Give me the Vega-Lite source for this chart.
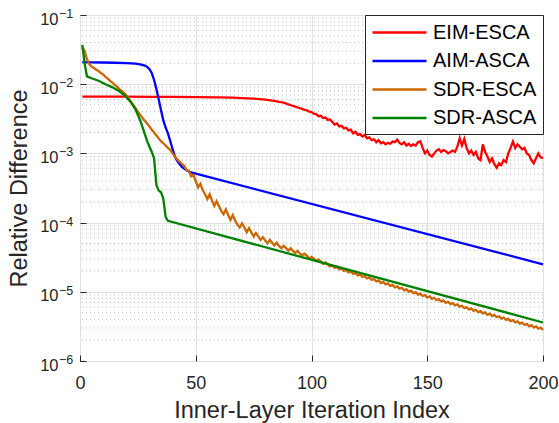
{
  "$schema": "https://vega.github.io/schema/vega-lite/v6.json",
  "width": 463,
  "height": 346,
  "autosize": {"type": "none"},
  "padding": {"left": 80, "top": 15, "right": 16, "bottom": 62},
  "background": "white",
  "config": {
    "view": {"stroke": "#262626", "strokeWidth": 1},
    "font": "Liberation Sans",
    "axis": {
      "labelFont": "Liberation Sans", "labelFontSize": 18, "labelColor": "#262626",
      "titleFont": "Liberation Sans", "titleFontSize": 23.5, "titleFontWeight": "normal", "titleColor": "#262626",
      "domain": false, "tickColor": "#262626", "gridColor": "#e0e0e0", "gridWidth": 1
    },
    "legend": {
      "orient": "top-right", "offset": 0, "fillColor": "white", "strokeColor": "#262626", "padding": 6,
      "symbolType": "M-2.7,0H2.7", "symbolSize": 400, "symbolStrokeWidth": 2.5, "symbolOffset": 17,
      "labelFont": "Liberation Sans", "labelFontSize": 20, "labelColor": "black", "rowPadding": 6.5, "labelOffset": 22, "labelLimit": 0
    }
  },
  "datasets": {
    "exps": [
      {"y": 1e-1, "e": "−1"}, {"y": 1e-2, "e": "−2"}, {"y": 1e-3, "e": "−3"},
      {"y": 1e-4, "e": "−4"}, {"y": 1e-5, "e": "−5"}, {"y": 1e-6, "e": "−6"}
    ],
    "minor": [
      {"y": 2e-6}, {"y": 3e-6}, {"y": 4e-6}, {"y": 5e-6}, {"y": 6e-6}, {"y": 7e-6}, {"y": 8e-6}, {"y": 9e-6},
      {"y": 2e-5}, {"y": 3e-5}, {"y": 4e-5}, {"y": 5e-5}, {"y": 6e-5}, {"y": 7e-5}, {"y": 8e-5}, {"y": 9e-5},
      {"y": 2e-4}, {"y": 3e-4}, {"y": 4e-4}, {"y": 5e-4}, {"y": 6e-4}, {"y": 7e-4}, {"y": 8e-4}, {"y": 9e-4},
      {"y": 2e-3}, {"y": 3e-3}, {"y": 4e-3}, {"y": 5e-3}, {"y": 6e-3}, {"y": 7e-3}, {"y": 8e-3}, {"y": 9e-3},
      {"y": 2e-2}, {"y": 3e-2}, {"y": 4e-2}, {"y": 5e-2}, {"y": 6e-2}, {"y": 7e-2}, {"y": 8e-2}, {"y": 9e-2}
    ],
    "red": [
      {"x": 1, "y": 6.6e-3}, {"x": 10, "y": 6.6e-3}, {"x": 20, "y": 6.6e-3}, {"x": 30, "y": 6.58e-3}, {"x": 40, "y": 6.55e-3},
      {"x": 50, "y": 6.5e-3}, {"x": 60, "y": 6.45e-3}, {"x": 66, "y": 6.38e-3}, {"x": 70, "y": 6.3e-3}, {"x": 75, "y": 6.2e-3},
      {"x": 80, "y": 6.0e-3}, {"x": 84, "y": 5.75e-3}, {"x": 86, "y": 5.55e-3}, {"x": 88, "y": 5.4e-3}, {"x": 90, "y": 5.1e-3},
      {"x": 91, "y": 5.0e-3}, {"x": 92, "y": 4.85e-3}, {"x": 93, "y": 4.75e-3}, {"x": 94, "y": 4.6e-3}, {"x": 95, "y": 4.5e-3},
      {"x": 96, "y": 4.4e-3}, {"x": 97, "y": 4.25e-3}, {"x": 98, "y": 4.2e-3}, {"x": 99, "y": 4.0e-3}, {"x": 100, "y": 3.95e-3},
      {"x": 101, "y": 3.75e-3}, {"x": 102, "y": 3.7e-3}, {"x": 103, "y": 3.45e-3}, {"x": 104, "y": 3.5e-3}, {"x": 105, "y": 3.25e-3},
      {"x": 106, "y": 3.3e-3}, {"x": 107, "y": 3.05e-3}, {"x": 108, "y": 3.1e-3}, {"x": 109, "y": 2.85e-3}, {"x": 110, "y": 2.6e-3},
      {"x": 111, "y": 2.7e-3}, {"x": 112, "y": 2.45e-3}, {"x": 113, "y": 2.5e-3}, {"x": 114, "y": 2.3e-3}, {"x": 115, "y": 2.35e-3},
      {"x": 116, "y": 2.15e-3}, {"x": 117, "y": 2.2e-3}, {"x": 118, "y": 1.95e-3}, {"x": 119, "y": 2.05e-3}, {"x": 120, "y": 1.85e-3},
      {"x": 121, "y": 1.9e-3}, {"x": 122, "y": 1.75e-3}, {"x": 123, "y": 1.85e-3}, {"x": 124, "y": 1.65e-3}, {"x": 125, "y": 1.7e-3},
      {"x": 126, "y": 1.55e-3}, {"x": 127, "y": 1.6e-3}, {"x": 128, "y": 1.45e-3}, {"x": 129, "y": 1.55e-3}, {"x": 130, "y": 1.4e-3},
      {"x": 131, "y": 1.45e-3}, {"x": 132, "y": 1.35e-3}, {"x": 133, "y": 1.42e-3}, {"x": 134, "y": 1.38e-3}, {"x": 135, "y": 1.48e-3},
      {"x": 136, "y": 1.45e-3}, {"x": 137, "y": 1.58e-3}, {"x": 138, "y": 1.42e-3}, {"x": 139, "y": 1.35e-3}, {"x": 140, "y": 1.45e-3},
      {"x": 141, "y": 1.3e-3}, {"x": 142, "y": 1.38e-3}, {"x": 143, "y": 1.28e-3}, {"x": 144, "y": 1.35e-3}, {"x": 145, "y": 1.3e-3},
      {"x": 146, "y": 1.45e-3}, {"x": 147, "y": 1.5e-3}, {"x": 148, "y": 1.2e-3}, {"x": 149, "y": 1.0e-3}, {"x": 150, "y": 1.1e-3},
      {"x": 151, "y": 0.95e-3}, {"x": 152, "y": 0.9e-3}, {"x": 153, "y": 1.0e-3}, {"x": 154, "y": 1.1e-3}, {"x": 155, "y": 1.15e-3},
      {"x": 156, "y": 1.05e-3}, {"x": 157, "y": 1.12e-3}, {"x": 158, "y": 1.08e-3}, {"x": 159, "y": 1.0e-3}, {"x": 160, "y": 1.05e-3},
      {"x": 161, "y": 1.1e-3}, {"x": 162, "y": 1.05e-3}, {"x": 163, "y": 1.25e-3}, {"x": 164, "y": 1.65e-3}, {"x": 165, "y": 1.3e-3},
      {"x": 166, "y": 1.62e-3}, {"x": 167, "y": 1.2e-3}, {"x": 168, "y": 1.0e-3}, {"x": 169, "y": 1.1e-3}, {"x": 170, "y": 0.95e-3},
      {"x": 171, "y": 1.05e-3}, {"x": 172, "y": 0.85e-3}, {"x": 173, "y": 0.8e-3}, {"x": 174, "y": 1.35e-3}, {"x": 175, "y": 1.05e-3},
      {"x": 176, "y": 0.9e-3}, {"x": 177, "y": 0.75e-3}, {"x": 178, "y": 0.85e-3}, {"x": 179, "y": 0.7e-3}, {"x": 180, "y": 0.62e-3},
      {"x": 181, "y": 0.72e-3}, {"x": 182, "y": 0.68e-3}, {"x": 183, "y": 0.8e-3}, {"x": 184, "y": 0.75e-3}, {"x": 185, "y": 1.0e-3},
      {"x": 186, "y": 1.2e-3}, {"x": 187, "y": 1.48e-3}, {"x": 188, "y": 1.2e-3}, {"x": 189, "y": 1.35e-3}, {"x": 190, "y": 1.25e-3},
      {"x": 191, "y": 1.15e-3}, {"x": 192, "y": 1.2e-3}, {"x": 193, "y": 1.0e-3}, {"x": 194, "y": 0.95e-3}, {"x": 195, "y": 0.8e-3},
      {"x": 196, "y": 0.72e-3}, {"x": 197, "y": 0.85e-3}, {"x": 198, "y": 1.0e-3}, {"x": 199, "y": 0.88e-3}, {"x": 200, "y": 0.85e-3}
    ],
    "blue": [
      {"x": 1, "y": 2.08e-2}, {"x": 5, "y": 2.07e-2}, {"x": 10, "y": 2.06e-2}, {"x": 15, "y": 2.04e-2}, {"x": 20, "y": 2.02e-2},
      {"x": 24, "y": 1.98e-2}, {"x": 26, "y": 1.94e-2}, {"x": 28, "y": 1.86e-2}, {"x": 29, "y": 1.78e-2}, {"x": 30, "y": 1.65e-2},
      {"x": 31, "y": 1.45e-2}, {"x": 32, "y": 1.15e-2}, {"x": 33, "y": 8.5e-3}, {"x": 34, "y": 6.0e-3}, {"x": 35, "y": 4.2e-3},
      {"x": 36, "y": 3.0e-3}, {"x": 37, "y": 2.35e-3}, {"x": 38, "y": 1.95e-3}, {"x": 39, "y": 1.5e-3}, {"x": 40, "y": 1.15e-3},
      {"x": 41, "y": 9.0e-4}, {"x": 42, "y": 7.8e-4}, {"x": 43, "y": 7.0e-4}, {"x": 44, "y": 6.4e-4}, {"x": 46, "y": 5.7e-4},
      {"x": 48, "y": 5.3e-4}, {"x": 200, "y": 2.5e-5}
    ],
    "orange": [
      {"x": 1, "y": 3.4e-2}, {"x": 2, "y": 3.0e-2}, {"x": 3, "y": 2.3e-2}, {"x": 4, "y": 1.95e-2}, {"x": 5, "y": 1.8e-2},
      {"x": 6, "y": 1.72e-2}, {"x": 7, "y": 1.62e-2}, {"x": 8, "y": 1.55e-2}, {"x": 9, "y": 1.45e-2}, {"x": 10, "y": 1.38e-2},
      {"x": 11, "y": 1.28e-2}, {"x": 12, "y": 1.2e-2}, {"x": 13, "y": 1.12e-2}, {"x": 14, "y": 1.05e-2}, {"x": 15, "y": 9.8e-3},
      {"x": 16, "y": 9.2e-3}, {"x": 17, "y": 8.5e-3}, {"x": 18, "y": 8.0e-3}, {"x": 19, "y": 7.5e-3}, {"x": 20, "y": 6.9e-3},
      {"x": 21, "y": 6.2e-3}, {"x": 22, "y": 5.6e-3}, {"x": 23, "y": 5.0e-3}, {"x": 24, "y": 4.5e-3}, {"x": 25, "y": 4.0e-3},
      {"x": 26, "y": 3.6e-3}, {"x": 27, "y": 3.25e-3}, {"x": 28, "y": 2.95e-3}, {"x": 29, "y": 2.7e-3}, {"x": 30, "y": 2.45e-3},
      {"x": 31, "y": 2.2e-3}, {"x": 32, "y": 2.0e-3}, {"x": 33, "y": 1.82e-3}, {"x": 34, "y": 1.65e-3}, {"x": 35, "y": 1.5e-3},
      {"x": 36, "y": 1.4e-3}, {"x": 37, "y": 1.3e-3}, {"x": 38, "y": 1.2e-3}, {"x": 39, "y": 1.12e-3}, {"x": 40, "y": 1.0e-3},
      {"x": 41, "y": 9.0e-4}, {"x": 42, "y": 8.2e-4}, {"x": 43, "y": 7.6e-4}, {"x": 44, "y": 7.08e-4}, {"x": 45, "y": 6.61e-4},
      {"x": 46, "y": 5.75e-4}, {"x": 47, "y": 5.62e-4}, {"x": 48, "y": 4.68e-4}, {"x": 49, "y": 4.9e-4}, {"x": 50, "y": 3.98e-4},
      {"x": 51, "y": 3.24e-4}, {"x": 52, "y": 3.63e-4}, {"x": 53, "y": 2.95e-4}, {"x": 54, "y": 2.57e-4}, {"x": 55, "y": 2.19e-4},
      {"x": 56, "y": 2.57e-4}, {"x": 57, "y": 2.09e-4}, {"x": 58, "y": 1.74e-4}, {"x": 59, "y": 2.04e-4}, {"x": 60, "y": 1.74e-4},
      {"x": 61, "y": 1.48e-4}, {"x": 62, "y": 1.32e-4}, {"x": 63, "y": 1.55e-4}, {"x": 64, "y": 1.29e-4}, {"x": 65, "y": 1.1e-4},
      {"x": 66, "y": 1.29e-4}, {"x": 67, "y": 1.07e-4}, {"x": 68, "y": 9.33e-5}, {"x": 69, "y": 8.51e-5}, {"x": 70, "y": 9.77e-5},
      {"x": 71, "y": 8.51e-5}, {"x": 72, "y": 7.24e-5}, {"x": 73, "y": 8.32e-5}, {"x": 74, "y": 7.24e-5}, {"x": 75, "y": 6.31e-5},
      {"x": 76, "y": 7.08e-5}, {"x": 77, "y": 6.31e-5}, {"x": 78, "y": 5.62e-5}, {"x": 79, "y": 6.17e-5}, {"x": 80, "y": 5.5e-5},
      {"x": 81, "y": 5.01e-5}, {"x": 82, "y": 5.62e-5}, {"x": 83, "y": 5.13e-5}, {"x": 84, "y": 4.68e-5}, {"x": 85, "y": 5.13e-5},
      {"x": 86, "y": 4.57e-5}, {"x": 87, "y": 4.27e-5}, {"x": 88, "y": 4.62e-5}, {"x": 89, "y": 4.27e-5}, {"x": 90, "y": 3.94e-5},
      {"x": 91, "y": 4.27e-5}, {"x": 92, "y": 3.89e-5}, {"x": 93, "y": 3.63e-5}, {"x": 94, "y": 3.89e-5}, {"x": 95, "y": 3.55e-5},
      {"x": 96, "y": 3.39e-5}, {"x": 97, "y": 3.55e-5}, {"x": 98, "y": 3.31e-5}, {"x": 99, "y": 3.02e-5}, {"x": 100, "y": 3.2e-5},
      {"x": 101, "y": 3.02e-5}, {"x": 102, "y": 2.79e-5}, {"x": 103, "y": 2.92e-5}, {"x": 104, "y": 2.75e-5}, {"x": 105, "y": 2.54e-5},
      {"x": 106, "y": 2.66e-5}, {"x": 107, "y": 2.51e-5}, {"x": 108, "y": 2.33e-5}, {"x": 109, "y": 2.4e-5}, {"x": 110, "y": 2.22e-5},
      {"x": 111, "y": 2.29e-5}, {"x": 112, "y": 2.11e-5}, {"x": 113, "y": 2.17e-5}, {"x": 114, "y": 2.01e-5}, {"x": 115, "y": 2.07e-5},
      {"x": 116, "y": 1.91e-5}, {"x": 117, "y": 1.97e-5}, {"x": 118, "y": 1.82e-5}, {"x": 119, "y": 1.87e-5}, {"x": 120, "y": 1.73e-5},
      {"x": 121, "y": 1.78e-5}, {"x": 122, "y": 1.64e-5}, {"x": 123, "y": 1.69e-5}, {"x": 124, "y": 1.56e-5}, {"x": 125, "y": 1.61e-5},
      {"x": 126, "y": 1.49e-5}, {"x": 127, "y": 1.53e-5}, {"x": 128, "y": 1.41e-5}, {"x": 129, "y": 1.46e-5}, {"x": 130, "y": 1.34e-5},
      {"x": 131, "y": 1.39e-5}, {"x": 132, "y": 1.28e-5}, {"x": 133, "y": 1.32e-5}, {"x": 134, "y": 1.22e-5}, {"x": 135, "y": 1.26e-5},
      {"x": 136, "y": 1.16e-5}, {"x": 137, "y": 1.2e-5}, {"x": 138, "y": 1.11e-5}, {"x": 139, "y": 1.14e-5}, {"x": 140, "y": 1.05e-5},
      {"x": 141, "y": 1.09e-5}, {"x": 142, "y": 1.0e-5}, {"x": 143, "y": 1.04e-5}, {"x": 144, "y": 9.57e-6}, {"x": 145, "y": 9.87e-6},
      {"x": 146, "y": 9.12e-6}, {"x": 147, "y": 9.41e-6}, {"x": 148, "y": 8.69e-6}, {"x": 149, "y": 8.96e-6}, {"x": 150, "y": 8.28e-6},
      {"x": 151, "y": 8.56e-6}, {"x": 152, "y": 7.92e-6}, {"x": 153, "y": 8.19e-6}, {"x": 154, "y": 7.58e-6}, {"x": 155, "y": 7.83e-6},
      {"x": 156, "y": 7.25e-6}, {"x": 157, "y": 7.5e-6}, {"x": 158, "y": 6.94e-6}, {"x": 159, "y": 7.17e-6}, {"x": 160, "y": 6.64e-6},
      {"x": 161, "y": 6.86e-6}, {"x": 162, "y": 6.35e-6}, {"x": 163, "y": 6.57e-6}, {"x": 164, "y": 6.08e-6}, {"x": 165, "y": 6.28e-6},
      {"x": 166, "y": 5.81e-6}, {"x": 167, "y": 6.01e-6}, {"x": 168, "y": 5.56e-6}, {"x": 169, "y": 5.75e-6}, {"x": 170, "y": 5.32e-6},
      {"x": 171, "y": 5.5e-6}, {"x": 172, "y": 5.09e-6}, {"x": 173, "y": 5.26e-6}, {"x": 174, "y": 4.87e-6}, {"x": 175, "y": 5.04e-6},
      {"x": 176, "y": 4.66e-6}, {"x": 177, "y": 4.83e-6}, {"x": 178, "y": 4.47e-6}, {"x": 179, "y": 4.63e-6}, {"x": 180, "y": 4.29e-6},
      {"x": 181, "y": 4.43e-6}, {"x": 182, "y": 4.11e-6}, {"x": 183, "y": 4.25e-6}, {"x": 184, "y": 3.94e-6}, {"x": 185, "y": 4.07e-6},
      {"x": 186, "y": 3.77e-6}, {"x": 187, "y": 3.9e-6}, {"x": 188, "y": 3.62e-6}, {"x": 189, "y": 3.74e-6}, {"x": 190, "y": 3.47e-6},
      {"x": 191, "y": 3.59e-6}, {"x": 192, "y": 3.32e-6}, {"x": 193, "y": 3.44e-6}, {"x": 194, "y": 3.18e-6}, {"x": 195, "y": 3.3e-6},
      {"x": 196, "y": 3.05e-6}, {"x": 197, "y": 3.16e-6}, {"x": 198, "y": 2.93e-6}, {"x": 199, "y": 3.03e-6}, {"x": 200, "y": 2.81e-6}
    ],
    "green": [
      {"x": 1, "y": 3.7e-2}, {"x": 2, "y": 2.0e-2}, {"x": 3, "y": 1.3e-2}, {"x": 5, "y": 1.22e-2}, {"x": 8, "y": 1.12e-2},
      {"x": 11, "y": 1.0e-2}, {"x": 14, "y": 9.0e-3}, {"x": 17, "y": 7.9e-3}, {"x": 19, "y": 7.0e-3}, {"x": 20, "y": 6.5e-3},
      {"x": 22, "y": 5.5e-3}, {"x": 24, "y": 4.3e-3}, {"x": 26, "y": 3.0e-3}, {"x": 27, "y": 2.4e-3}, {"x": 28, "y": 1.9e-3},
      {"x": 29, "y": 1.5e-3}, {"x": 30, "y": 1.25e-3}, {"x": 31, "y": 1.05e-3}, {"x": 32, "y": 8.5e-4}, {"x": 33, "y": 3.5e-4},
      {"x": 34, "y": 2.9e-4}, {"x": 35, "y": 2.75e-4}, {"x": 36, "y": 2.2e-4}, {"x": 37, "y": 1.2e-4}, {"x": 38, "y": 1.06e-4},
      {"x": 200, "y": 3.6e-6}
    ]
  },
  "layer": [
    {
      "data": {"name": "minor"},
      "mark": {"type": "rule", "stroke": "#bdbdbd", "strokeDash": [1, 3], "strokeWidth": 1},
      "encoding": {
        "y": {
          "field": "y", "type": "quantitative",
          "scale": {"type": "log", "domain": [1e-6, 0.1], "nice": false},
          "axis": {
            "values": [1e-6, 1e-5, 1e-4, 1e-3, 1e-2, 1e-1],
            "title": "Relative Difference", "grid": true, "ticks": true, "tickSize": -6, "labelPadding": 28, "labelOffset": 4, "labelFontSize": 16.5, "titlePadding": 8,
            "labelExpr": "'10'"
          }
        }
      }
    },
    {
      "data": {"name": "exps"},
      "mark": {"type": "text", "align": "left", "baseline": "middle", "dx": -21, "dy": -1, "fontSize": 12.5, "font": "Liberation Sans", "color": "#262626"},
      "encoding": {
        "x": {"datum": 0, "type": "quantitative", "scale": {"domain": [0, 200], "nice": false},
          "axis": {"values": [0, 50, 100, 150, 200], "title": "Inner-Layer Iteration Index", "grid": true, "ticks": true, "tickSize": -6, "labelPadding": 19.5, "titlePadding": 6, "labelFlush": false}},
        "y": {
          "field": "y", "type": "quantitative",
          "scale": {"type": "log", "domain": [1e-6, 0.1], "nice": false},
          "axis": {
            "values": [1e-6, 1e-5, 1e-4, 1e-3, 1e-2, 1e-1],
            "title": "Relative Difference", "grid": true, "ticks": true, "tickSize": -6, "labelPadding": 28, "labelOffset": 4, "labelFontSize": 16.5, "titlePadding": 8,
            "labelExpr": "'10'"
          }
        },
        "text": {"field": "e", "type": "nominal"}
      }
    },
    {
      "encoding": {
        "x": {
          "field": "x", "type": "quantitative",
          "scale": {"domain": [0, 200], "nice": false},
          "axis": {"values": [0, 50, 100, 150, 200], "title": "Inner-Layer Iteration Index", "grid": true, "ticks": true, "tickSize": -6, "labelPadding": 19.5, "titlePadding": 6, "labelFlush": false}
        },
        "y": {
          "field": "y", "type": "quantitative",
          "scale": {"type": "log", "domain": [1e-6, 0.1], "nice": false},
          "axis": {
            "values": [1e-6, 1e-5, 1e-4, 1e-3, 1e-2, 1e-1],
            "title": "Relative Difference", "grid": true, "ticks": true, "tickSize": -6, "labelPadding": 28, "labelOffset": 4, "labelFontSize": 16.5, "titlePadding": 8,
            "labelExpr": "'10'"
          }
        }
      },
      "layer": [
        {
          "data": {"name": "red"},
          "mark": {"type": "line", "strokeWidth": 2.3},
          "encoding": {"color": {"datum": "EIM-ESCA", "type": "nominal", "scale": {"domain": ["EIM-ESCA", "AIM-ASCA", "SDR-ESCA", "SDR-ASCA"], "range": ["#ff0000", "#0000ff", "#cc6600", "#008000"]}, "legend": {"title": null}}}
        },
        {
          "data": {"name": "blue"},
          "mark": {"type": "line", "strokeWidth": 2.3},
          "encoding": {"color": {"datum": "AIM-ASCA", "type": "nominal", "scale": {"domain": ["EIM-ESCA", "AIM-ASCA", "SDR-ESCA", "SDR-ASCA"], "range": ["#ff0000", "#0000ff", "#cc6600", "#008000"]}, "legend": {"title": null}}}
        },
        {
          "data": {"name": "orange"},
          "mark": {"type": "line", "strokeWidth": 2.3},
          "encoding": {"color": {"datum": "SDR-ESCA", "type": "nominal", "scale": {"domain": ["EIM-ESCA", "AIM-ASCA", "SDR-ESCA", "SDR-ASCA"], "range": ["#ff0000", "#0000ff", "#cc6600", "#008000"]}, "legend": {"title": null}}}
        },
        {
          "data": {"name": "green"},
          "mark": {"type": "line", "strokeWidth": 2.3},
          "encoding": {"color": {"datum": "SDR-ASCA", "type": "nominal", "scale": {"domain": ["EIM-ESCA", "AIM-ASCA", "SDR-ESCA", "SDR-ASCA"], "range": ["#ff0000", "#0000ff", "#cc6600", "#008000"]}, "legend": {"title": null}}}
        }
      ]
    }
  ]
}
